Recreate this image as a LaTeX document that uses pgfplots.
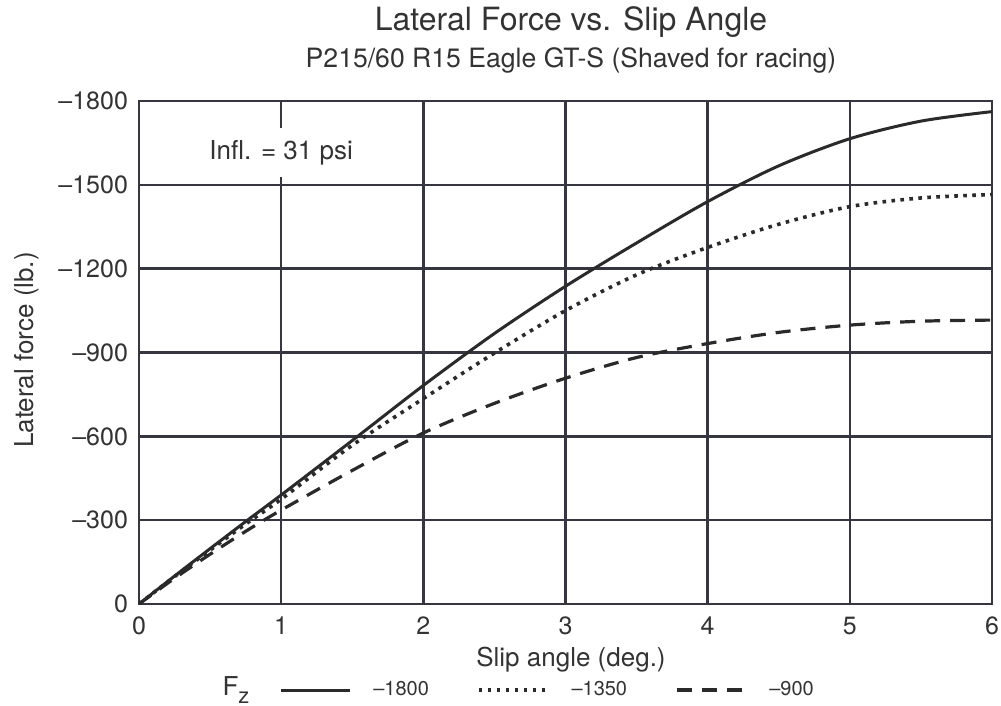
\documentclass[border=0pt]{standalone}
\usepackage{fontspec}
\setmainfont{TeX Gyre Heros}
\usepackage{pgfplots}
\pgfplotsset{compat=1.18}
\definecolor{ink}{HTML}{2A2A2A}
\definecolor{txt}{HTML}{333333}
\definecolor{gridc}{HTML}{363640}

% lateral force (lb) vs slip angle (deg), one table per vertical load
\pgfplotstableread{
a   f
0   0
0.25 -100
0.5 -198
0.75 -295
1   -390
1.5 -585
2   -782
2.5 -968
3   -1137
3.5 -1292
4   -1440
4.5 -1568
5   -1665
5.5 -1728
6   -1762
}\fzA
\pgfplotstableread{
a   f
0   0
0.25 -98
0.5 -193
0.75 -286
1   -375
1.5 -568
2   -735
2.5 -898
3   -1050
3.5 -1178
4   -1276
4.5 -1359
5   -1422
5.5 -1453
6   -1465
}\fzB
\pgfplotstableread{
a   f
0   0
0.25 -92
0.5 -178
0.75 -260
1   -336
1.5 -478
2   -612
2.5 -718
3   -808
3.5 -882
4   -932
4.5 -972
5   -998
5.5 -1012
6   -1016
}\fzC

\begin{document}
\begin{tikzpicture}
\useasboundingbox (-69.5pt,-51pt) rectangle (431pt,302pt);
\begin{axis}[
  at={(0pt,0pt)}, anchor=south west,
  scale only axis, width=426.5pt, height=251.5pt,
  xmin=0, xmax=6, ymin=-1800, ymax=0, y dir=reverse,
  xtick={0,1,2,3,4,5,6},
  xticklabels={0,1,2,3,4,5,6},
  ytick={-1800,-1500,-1200,-900,-600,-300,0},
  yticklabels={\textendash1800,\textendash1500,\textendash1200,\textendash900,\textendash600,\textendash300,0},
  grid=major,
  major grid style={gridc, line width=1.2pt},
  axis line style={gridc, line width=1.3pt},
  major tick length=0pt,
  tick label style={font=\fontsize{12.5}{14}\selectfont, text=txt},
  xticklabel style={yshift=-3pt},
  yticklabel style={xshift=-2pt},
  legend columns=3,
  legend style={at={(axis description cs:0.157,-0.171)}, anchor=west,
    draw=none, fill=none, font=\fontsize{10}{12}\selectfont, text=txt,
    /tikz/every odd column/.append style={column sep=9pt},
    /tikz/every even column/.append style={column sep=22pt}},
  legend image code/.code={\draw[#1] (0pt,0pt) -- (34.5pt,0pt);},
]
\addplot[ink, line width=1.5pt, smooth] table[x=a, y=f] {\fzA};
\addlegendentry{\textendash1800}
\addplot[ink, line width=1.8pt, smooth, dash pattern=on 1.8pt off 2.7pt] table[x=a, y=f] {\fzB};
\addlegendentry{\textendash1350}
\addplot[ink, line width=1.6pt, smooth, dash pattern=on 7.5pt off 5pt] table[x=a, y=f] {\fzC};
\addlegendentry{\textendash900}
\node[fill=white, inner xsep=3pt, inner ysep=6pt, text=txt,
  font=\fontsize{13}{15}\selectfont] at (axis cs:1,-1615) {Infl. = 31 psi};
\end{axis}
\node[text=txt, font=\fontsize{16}{18}\selectfont] at (216pt,291pt) {Lateral Force vs. Slip Angle};
\node[text=txt, font=\fontsize{13.3}{15}\selectfont] at (216pt,272pt) {P215/60 R15 Eagle GT-S (Shaved for racing)};
\node[text=txt, font=\fontsize{13}{15}\selectfont] at (216pt,-28pt) {Slip angle (deg.)};
\node[text=txt, font=\fontsize{13}{15}\selectfont, rotate=90] at (-56pt,127pt) {Lateral force (lb.)};
\node[text=txt, font=\fontsize{13}{15}\selectfont] at (48.5pt,-43pt) {F\raisebox{-4pt}{\fontsize{11}{13}\selectfont z}};
\end{tikzpicture}
\end{document}
